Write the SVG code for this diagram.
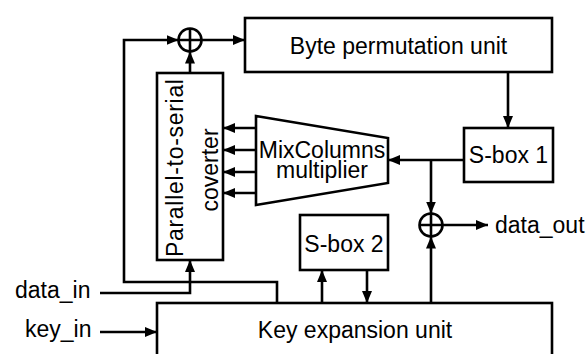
<svg xmlns="http://www.w3.org/2000/svg" width="587" height="354" viewBox="0 0 587 354">
<style>
.box{fill:#fff;stroke:#000;stroke-width:2.6}
.ln{fill:none;stroke:#000;stroke-width:2.6}
.t{font-family:"Liberation Sans",Arial,sans-serif;font-size:23px;fill:#000}
</style>
<defs>
<marker id="ah" viewBox="0 0 12 10" refX="12" refY="5" markerWidth="12" markerHeight="10" markerUnits="userSpaceOnUse" orient="auto">
<path d="M0,0 L12,5 L0,10 Z" fill="#000"/>
</marker>
</defs>
<rect width="587" height="354" fill="#fff"/>
<g id="byte-perm">
<rect class="box" x="245" y="18" width="307" height="54"/>
<text class="t" x="398.5" y="54" text-anchor="middle">Byte permutation unit</text>
</g>
<g id="p2s">
<rect class="box" x="157" y="73" width="66" height="187"/>
<text class="t" transform="translate(183,168) rotate(-90)" text-anchor="middle" textLength="178" lengthAdjust="spacing">Parallel-to-serial</text>
<text class="t" transform="translate(218,170) rotate(-90)" text-anchor="middle">coverter</text>
</g>
<g id="mixcolumns">
<polygon class="box" points="256,116 388,138 388,183 256,205"/>
<text class="t" x="322" y="158" text-anchor="middle">MixColumns</text>
<text class="t" x="322" y="178" text-anchor="middle">multiplier</text>
</g>
<g id="sbox1">
<rect class="box" x="464" y="128" width="89" height="54"/>
<text class="t" x="508.5" y="163" text-anchor="middle">S-box 1</text>
</g>
<g id="sbox2">
<rect class="box" x="300" y="215" width="88" height="55"/>
<text class="t" x="344" y="252" text-anchor="middle">S-box 2</text>
</g>
<g id="key-exp">
<rect class="box" x="157" y="303" width="395" height="70"/>
<text class="t" x="355" y="338" text-anchor="middle">Key expansion unit</text>
</g>
<g id="xor-top">
<circle class="ln" cx="190" cy="40" r="11.5"/>
<path class="ln" d="M178.5,40 H201.5 M190,28.5 V51.5"/>
</g>
<g id="xor-bottom">
<circle class="ln" cx="431" cy="225" r="11.5"/>
<path class="ln" d="M419.5,225 H442.5 M431,213.5 V236.5"/>
</g>
<g id="labels">
<text class="t" x="15" y="298">data_in</text>
<text class="t" x="25" y="337">key_in</text>
<text class="t" x="495" y="233">data_out</text>
</g>
<g id="connectors">
<polyline class="ln" points="277,303 277,282 124,282 124,40 178.5,40" marker-end="url(#ah)"/>
<line class="ln" x1="201.5" y1="40" x2="245" y2="40" marker-end="url(#ah)"/>
<line class="ln" x1="190" y1="73" x2="190" y2="51.5" marker-end="url(#ah)"/>
<polyline class="ln" points="100,293 190,293 190,260" marker-end="url(#ah)"/>
<line class="ln" x1="100" y1="332" x2="157" y2="332" marker-end="url(#ah)"/>
<line class="ln" x1="508" y1="72" x2="508" y2="128" marker-end="url(#ah)"/>
<line class="ln" x1="464" y1="160" x2="388" y2="160" marker-end="url(#ah)"/>
<line class="ln" x1="431" y1="160" x2="431" y2="213.5" marker-end="url(#ah)"/>
<line class="ln" x1="431" y1="303" x2="431" y2="236.5" marker-end="url(#ah)"/>
<line class="ln" x1="442.5" y1="225" x2="488" y2="225" marker-end="url(#ah)"/>
<line class="ln" x1="256" y1="128" x2="223" y2="128" marker-end="url(#ah)"/>
<line class="ln" x1="256" y1="150" x2="223" y2="150" marker-end="url(#ah)"/>
<line class="ln" x1="256" y1="172" x2="223" y2="172" marker-end="url(#ah)"/>
<line class="ln" x1="256" y1="193" x2="223" y2="193" marker-end="url(#ah)"/>
<line class="ln" x1="322" y1="303" x2="322" y2="270" marker-end="url(#ah)"/>
<line class="ln" x1="367" y1="270" x2="367" y2="303" marker-end="url(#ah)"/>
</g>
</svg>
